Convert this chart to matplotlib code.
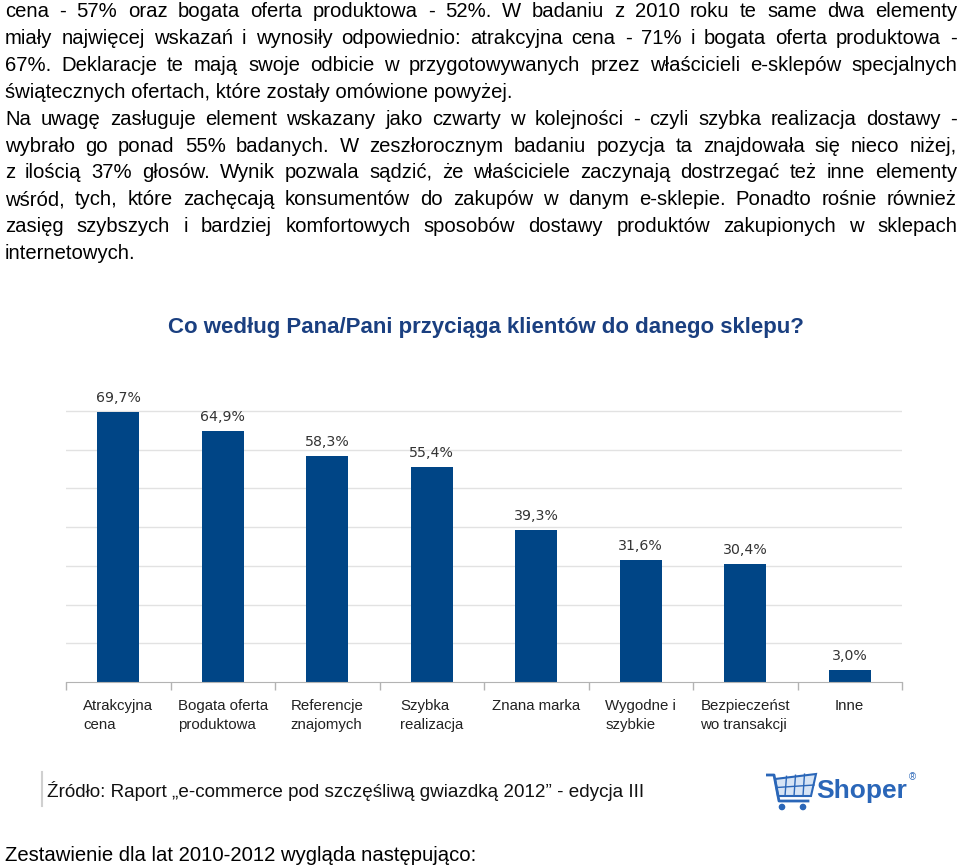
import numpy as np
import matplotlib
matplotlib.use("Agg")
import matplotlib.pyplot as plt
from matplotlib.patches import Polygon, Circle

# text above the chart (one entry per printed line, True = justified)
body_lines = [
    ("cena - 57% oraz bogata oferta produktowa - 52%. W badaniu z 2010 roku te same dwa elementy", True),
    ("miały najwięcej wskazań i wynosiły odpowiednio: atrakcyjna cena - 71% i bogata oferta produktowa -", True),
    ("67%. Deklaracje te mają swoje odbicie w przygotowywanych przez właścicieli e-sklepów specjalnych", True),
    ("świątecznych ofertach, które zostały omówione powyżej.", False),
    ("Na uwagę zasługuje element wskazany jako czwarty w kolejności - czyli szybka realizacja dostawy -", True),
    ("wybrało go ponad 55% badanych. W zeszłorocznym badaniu pozycja ta znajdowała się nieco niżej,", True),
    ("z ilością 37% głosów. Wynik pozwala sądzić, że właściciele zaczynają dostrzegać też inne elementy", True),
    ("wśród, tych, które zachęcają konsumentów do zakupów w danym e-sklepie. Ponadto rośnie również", True),
    ("zasięg szybszych i bardziej komfortowych sposobów dostawy produktów zakupionych w sklepach", True),
    ("internetowych.", False),
]

title = "Co według Pana/Pani przyciąga klientów do danego sklepu?"
categories = ["Atrakcyjna\ncena", "Bogata oferta\nproduktowa", "Referencje\nznajomych",
              "Szybka\nrealizacja", "Znana marka", "Wygodne i\nszybkie",
              "Bezpieczeńst\nwo transakcji", "Inne"]
values = [69.7, 64.9, 58.3, 55.4, 39.3, 31.6, 30.4, 3.0]
source = "Źródło: Raport „e-commerce pod szczęśliwą gwiazdką 2012” - edycja III"
last_line = "Zestawienie dla lat 2010-2012 wygląda następująco:"

W, H = 960, 867
FONT = ["Liberation Sans", "DejaVu Sans"]
fig = plt.figure(figsize=(W / 100, H / 100), dpi=100)
fig.patch.set_facecolor("white")
renderer = fig.canvas.get_renderer()


def fy(py):
    return 1 - py / H


# justified paragraph text
left, right = 5, 957
for i, (line, justify) in enumerate(body_lines):
    base = 17 + i * 26.9
    if not justify:
        fig.text(left / W, fy(base), line, fontsize=14.6, family=FONT, va="baseline")
        continue
    words = line.split(" ")
    texts = [fig.text(0, fy(base), w, fontsize=14.6, family=FONT, va="baseline") for w in words]
    widths = [t.get_window_extent(renderer).width for t in texts]
    gap = (right - left - sum(widths)) / (len(words) - 1)
    gap = max(gap, 3)
    x = left
    for t, w in zip(texts, widths):
        t.set_x(x / W)
        x += w + gap

# chart title
fig.text(486 / W, fy(333), title, fontsize=16, fontweight="bold", family=FONT,
         color="#1a3f80", ha="center", va="baseline")

# bar chart
ax = fig.add_axes([66 / W, (H - 682) / H, 836 / W, 290.5 / H])
x = np.arange(len(categories))
ax.bar(x, values, width=0.4, color="#004586", zorder=2)
for xi, v in zip(x, values):
    ax.annotate(f"{v:.1f}".replace(".", ",") + "%", xy=(xi, v), xytext=(0, 5),
                textcoords="offset points", ha="center", va="bottom",
                fontsize=10.2, color="#333333", family="DejaVu Sans")
ax.set_xlim(-0.5, len(categories) - 0.5)
ax.set_ylim(0, 75)
ax.set_yticks(np.arange(10, 80, 10))
ax.yaxis.grid(True, color="#e2e2e2", linewidth=1)
ax.set_axisbelow(True)
ax.tick_params(axis="y", length=0, labelleft=False)
ax.set_xticks(x)
ax.set_xticklabels(categories, fontsize=10.8, family=FONT, color="#222222")
for lbl in ax.get_xticklabels():
    lbl.set_multialignment("left")
    lbl.set_linespacing(1.45)
ax.set_xticks(np.arange(-0.5, len(categories), 1), minor=True)
ax.tick_params(axis="x", which="major", length=0, pad=12)
ax.tick_params(axis="x", which="minor", length=5.8, width=1, color="#b3b3b3")
for s in ["left", "right", "top"]:
    ax.spines[s].set_visible(False)
ax.spines["bottom"].set_color("#b3b3b3")

# source line
fig.add_artist(plt.Line2D([42 / W, 42 / W], [fy(806), fy(772)], color="#d0d0d0", lw=1.5))
fig.text(47 / W, fy(797), source, fontsize=13.6, family=FONT, color="#111111", va="baseline")

# Shoper logo
lax = fig.add_axes([766 / W, (H - 812) / H, 52 / W, 42 / H])
lax.set_xlim(0, 52)
lax.set_ylim(0, 42)
lax.axis("off")
blue = "#2a66b8"
lax.add_patch(Polygon([(9, 33), (50, 38), (45, 16), (12, 16)], closed=True,
                      facecolor="#d6e4f5", edgecolor=blue, lw=1.5))
for gx in [19, 28, 37]:
    lax.plot([gx, gx + 1.5], [16, 34.5 + (gx - 9) * 0.12], color=blue, lw=1)
lax.plot([11, 48], [24.5, 27], color=blue, lw=1)
lax.plot([1, 8, 13, 42], [37, 37, 11, 11], color=blue, lw=2)
lax.add_patch(Circle((16, 5), 2.6, color=blue))
lax.add_patch(Circle((37, 5), 2.6, color=blue))
fig.text(816 / W, fy(798), "Shoper", fontsize=19, fontweight="bold", family=FONT,
         color=blue, va="baseline")
fig.text(909 / W, fy(780), "®", fontsize=7, family=FONT, color=blue, va="baseline")

# closing line
fig.text(5 / W, fy(861), last_line, fontsize=14.6, family=FONT, va="baseline")

fig.savefig("out.png", dpi=100)
